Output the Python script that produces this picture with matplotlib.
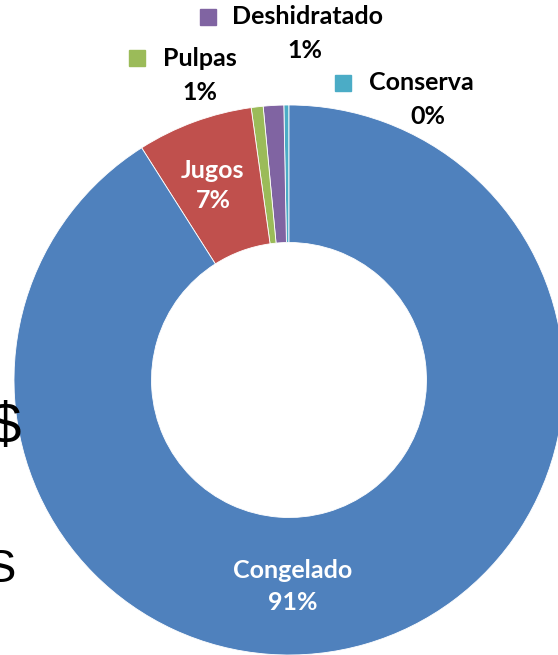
import matplotlib.pyplot as plt

categories = ['Conserva', 'Deshidratado', 'Pulpas', 'Jugos', 'Congelado']
values = [0.3, 1.2, 0.7, 6.8, 91.0]
colors = ['#4BACC6', '#8064A2', '#9BBB59', '#C0504D', '#4F81BD']
pct_labels = ['0%', '1%', '1%', '7%', '91%']

W, H = 558, 655
fig = plt.figure(figsize=(W / 100, H / 100), dpi=100)

# leftover text fragments from the slide behind the chart
fig.text(21 / W, 1 - 428 / H, '$', fontsize=42, family='Liberation Sans',
         ha='right', va='center', color='black', zorder=0)
fig.text(16 / W, 1 - 570 / H, 'S', fontsize=34, family='Liberation Sans',
         ha='right', va='center', color='black', zorder=0)

cx, cy, r = 289, 380, 275
ax = fig.add_axes([(cx - r) / W, (H - cy - r) / H, 2 * r / W, 2 * r / H])
ax.pie(values, colors=colors, startangle=90, counterclock=True, radius=1,
       wedgeprops=dict(width=0.5, edgecolor='white', linewidth=0.6))
ax.set_xlim(-1, 1)
ax.set_ylim(-1, 1)
ax.set_aspect('equal')
ax.axis('off')

font = dict(family='Lato', fontweight='bold', fontsize=18)

# label positions in pixels: (name, pct, legend square)
outside = {
    'Deshidratado': ((308, 17), (305, 50), (208, 17)),
    'Pulpas': ((200, 58), (200, 93), (137, 58)),
    'Conserva': ((421, 83), (428, 116), (343, 83)),
}
inside = {'Jugos': ((213, 170), (213, 201)), 'Congelado': ((293, 570), (293, 603))}

for i, name in enumerate(categories):
    if name in outside:
        (nx, ny), (px, py), (sx, sy) = outside[name]
        col = 'black'
        fig.patches.append(plt.Rectangle(((sx - 8) / W, 1 - (sy + 8) / H), 16 / W, 16 / H,
                                         transform=fig.transFigure, color=colors[i], figure=fig))
    else:
        (nx, ny), (px, py) = inside[name]
        col = 'white'
    fig.text(nx / W, 1 - ny / H, name, ha='center', va='center', color=col, **font)
    fig.text(px / W, 1 - py / H, pct_labels[i], ha='center', va='center', color=col, **font)

fig.savefig('out.png', dpi=100)
